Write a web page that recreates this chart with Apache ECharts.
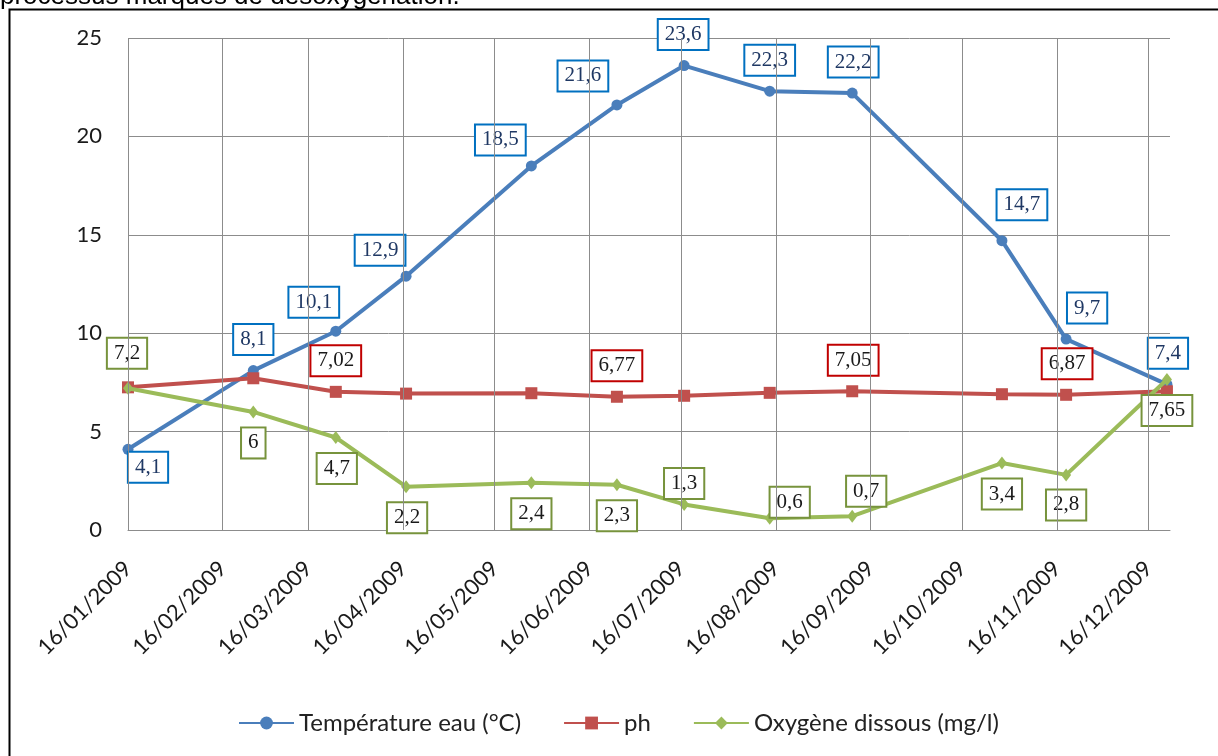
<!DOCTYPE html>
<html>
<head>
<meta charset="utf-8">
<script src="https://cdn.jsdelivr.net/npm/echarts@6/dist/echarts.min.js"></script>
<style>
html, body { margin: 0; padding: 0; background: #fff; }
#chart { width: 1218px; height: 756px; }
</style>
</head>
<body>
<div id="chart"></div>
<script>
// dates des mesures
var sampleDates = ['2009-01-16', '2009-02-26', '2009-03-25', '2009-04-17', '2009-05-28', '2009-06-25',
                   '2009-07-17', '2009-08-14', '2009-09-10', '2009-10-29', '2009-11-19', '2009-12-22'];
// graduations de l'axe des dates (pas d'un mois) et bornes de l'axe
var tickDates = ['2009-01-16', '2009-02-16', '2009-03-16', '2009-04-16', '2009-05-16', '2009-06-16',
                 '2009-07-16', '2009-08-16', '2009-09-16', '2009-10-16', '2009-11-16', '2009-12-16'];
var xMinDate = '2009-01-16';
var xMaxDate = '2009-12-23';
var seriesNames = ['Température eau (°C)', 'ph', 'Oxygène dissous (mg/l)'];
var temperature = [4.1, 8.1, 10.1, 12.9, 18.5, 21.6, 23.6, 22.3, 22.2, 14.7, 9.7, 7.4];
var ph = [7.25, 7.71, 7.02, 6.93, 6.95, 6.77, 6.82, 6.97, 7.05, 6.9, 6.87, 7.05];
var oxygen = [7.2, 6, 4.7, 2.2, 2.4, 2.3, 1.3, 0.6, 0.7, 3.4, 2.8, 7.65];

// placement des étiquettes (décalage par rapport au point)
var tempLabelOffset = [[20, 18], [0, -31], [-22, -29], [-26, -26], [-31, -26], [-34, -29],
                       [-1, -31], [0, -31], [1, -31], [20, -36], [21, -31], [1, -31]];
var phLabelOffset = [null, null, [0, -31], null, null, [0, -31], null, null, [1, -31], null, [1, -31], null];
var oxyLabelOffset = [[-1, -35], [0, 31], [1, 31], [1, 31], [0, 31], [0, 31],
                      [0, -21], [20, -16], [14, -25], [0, 31], [0, 30], [0, 31]];

function toTime(s) {
    var p = s.split('-');
    return new Date(+p[0], +p[1] - 1, +p[2]).getTime();
}
function pad(n) { return n < 10 ? '0' + n : '' + n; }

function buildData(values, offsets) {
    return values.map(function (v, i) {
        var item = { value: [toTime(sampleDates[i]), v] };
        if (offsets[i]) {
            item.label = { show: true, offset: offsets[i] };
        }
        return item;
    });
}

function labelStyle(border, text) {
    return {
        show: false,
        position: 'inside',
        backgroundColor: '#fff',
        borderColor: border,
        borderWidth: 2,
        padding: [4, 6],
        lineHeight: 21,
        fontFamily: 'Liberation Serif',
        fontSize: 21,
        color: text,
        formatter: function (p) { return String(p.value[1]).replace('.', ','); }
    };
}

var ticks = tickDates.map(toTime);
var gridColor = '#8c8c8c';
var axisFont = 'Lato';

var option = {
    animation: false,
    backgroundColor: '#fff',
    grid: { left: 128, right: 48, top: 38, bottom: 226, outerBoundsMode: 'none' },
    legend: {
        left: 233,
        top: 706,
        itemWidth: 55,
        itemHeight: 16,
        itemGap: 42,
        textStyle: { fontFamily: axisFont, fontSize: 24, color: '#222' },
        data: seriesNames
    },
    xAxis: {
        type: 'value',
        min: toTime(xMinDate),
        max: toTime(xMaxDate),
        axisLine: { show: true, lineStyle: { color: gridColor, width: 1 } },
        axisTick: { show: false, customValues: ticks },
        axisLabel: {
            customValues: ticks,
            rotate: 45,
            margin: 35,
            verticalAlign: 'middle',
            padding: [12, 0, 0, 0],
            fontFamily: axisFont,
            fontSize: 22,
            color: '#1a1a1a',
            hideOverlap: false,
            formatter: function (v) {
                var d = new Date(v);
                return pad(d.getDate()) + '/' + pad(d.getMonth() + 1) + '/' + d.getFullYear();
            }
        },
        splitLine: { show: false }
    },
    yAxis: {
        type: 'value',
        min: 0,
        max: 25,
        interval: 5,
        axisLine: { show: false },
        axisTick: { show: false },
        axisLabel: { margin: 26, fontFamily: axisFont, fontSize: 22, color: '#1a1a1a' },
        splitLine: { show: true, lineStyle: { color: gridColor, width: 1 } }
    },
    series: [
        {
            // quadrillage vertical, un trait par graduation mensuelle
            name: 'grille',
            type: 'line',
            data: [],
            silent: true,
            z: 1,
            markLine: {
                silent: true,
                symbol: ['none', 'none'],
                label: { show: false },
                lineStyle: { color: gridColor, width: 1, type: 'solid' },
                emphasis: { disabled: true },
                data: ticks.map(function (t) { return { xAxis: t }; })
            }
        },
        {
            name: seriesNames[0],
            type: 'line',
            data: buildData(temperature, tempLabelOffset),
            symbol: 'circle',
            symbolSize: 11,
            itemStyle: { color: '#4A7EBB' },
            lineStyle: { color: '#4A7EBB', width: 4 },
            label: labelStyle('#0070C0', '#1F3864'),
            z: 2
        },
        {
            name: seriesNames[1],
            type: 'line',
            data: buildData(ph, phLabelOffset),
            symbol: 'rect',
            symbolSize: 12,
            itemStyle: { color: '#C0504D' },
            lineStyle: { color: '#C0504D', width: 4 },
            label: labelStyle('#C00000', '#1a1a1a'),
            z: 3
        },
        {
            name: seriesNames[2],
            type: 'line',
            data: buildData(oxygen, oxyLabelOffset),
            symbol: 'diamond',
            symbolSize: [10, 13],
            itemStyle: { color: '#9BBB59' },
            lineStyle: { color: '#9BBB59', width: 4 },
            label: labelStyle('#77933C', '#1a1a1a'),
            z: 4
        }
    ],
    graphic: [
        {
            type: 'text',
            x: 0,
            y: -16,
            style: { text: 'processus marqués de désoxygénation.', font: '26px "Liberation Sans"', fill: '#000' }
        },
        {
            type: 'rect',
            shape: { x: 9.5, y: 9.5, width: 1400, height: 900 },
            style: { fill: null, stroke: '#000', lineWidth: 2 }
        }
    ]
};

// étiquettes pour toutes les valeurs de température et d'oxygène
option.series[1].label.show = true;
option.series[3].label.show = true;

var myChart = echarts.init(document.getElementById('chart'));
myChart.setOption(option);
</script>
</body>
</html>
